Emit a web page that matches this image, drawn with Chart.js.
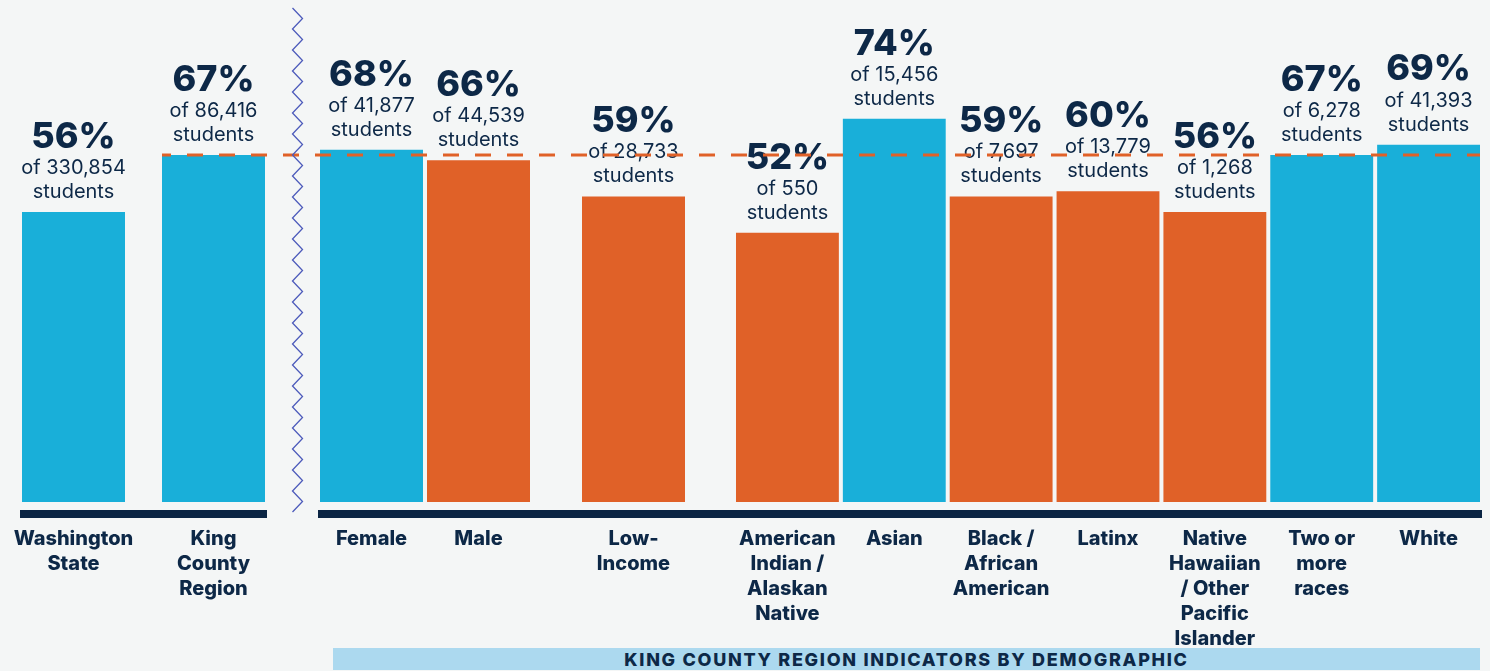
<!DOCTYPE html>
<html>
<head>
<meta charset="utf-8">
<script src="https://cdn.jsdelivr.net/npm/chart.js@4.4.1/dist/chart.umd.min.js"></script>
<style>
  body { margin: 0; background: #f4f6f6; width: 1490px; height: 671px; overflow: hidden; position: relative; font-family: Inter, sans-serif; }
  .box { position: absolute; top: 0; height: 671px; }
  #banner { position: absolute; left: 333px; top: 648px; width: 1147px; height: 22px; background: #acd9ef;
            color: #0d2847; font: 800 18px Inter, sans-serif; letter-spacing: 1.7px; text-align: center; line-height: 24px; }
</style>
</head>
<body>
<div class="box" style="left:0px;width:318px"><canvas id="stateChart" width="318" height="671"></canvas></div>
<div class="box" style="left:318px;width:238px"><canvas id="genderChart" width="238" height="671"></canvas></div>
<div class="box" style="left:556px;width:154px"><canvas id="incomeChart" width="154" height="671"></canvas></div>
<div class="box" style="left:710px;width:780px"><canvas id="raceChart" width="780" height="671"></canvas></div>
<div id="banner">KING COUNTY REGION INDICATORS BY DEMOGRAPHIC</div>
<script>
// data
var stateLabels = [['Washington', 'State'], ['King', 'County', 'Region']];
var statePct = [56, 67];
var stateCounts = [330854, 86416];

var genderLabels = ['Female', 'Male'];
var genderPct = [68, 66];
var genderCounts = [41877, 44539];

var incomeLabels = [['Low-', 'Income']];
var incomePct = [59];
var incomeCounts = [28733];

var raceLabels = [['American', 'Indian /', 'Alaskan', 'Native'], 'Asian', ['Black /', 'African', 'American'], 'Latinx',
                  ['Native', 'Hawaiian', '/ Other', 'Pacific', 'Islander'], ['Two or', 'more', 'races'], 'White'];
var racePct = [52, 74, 59, 60, 56, 67, 69];
var raceCounts = [550, 15456, 7697, 13779, 1268, 6278, 41393];

var benchmark = 67; // King County Region

var navy = '#0d2847';
var blue = '#19afd9';
var orange = '#e06128';

// labels above bars, benchmark line, baseline, zigzag break
var decorPlugin = {
    id: 'decor',
    afterDatasetsDraw: function(chart, args, o) {
        var ctx = chart.ctx;
        var meta = chart.getDatasetMeta(0);
        var ds = chart.data.datasets[0];
        var area = chart.chartArea;
        var left = chart.canvas.parentNode.offsetLeft;
        var bars = meta.data;
        var xAt = function(v, side) {
            if (v === 'edge') return side < 0 ? 0 : chart.width;
            return bars[v].x + side * bars[v].width / 2;
        };
        ctx.save();
        ctx.fillStyle = navy;
        ctx.textAlign = 'center';
        ctx.textBaseline = 'middle';
        bars.forEach(function(bar, i) {
            ctx.font = '800 36px Inter';
            ctx.fillText(ds.data[i] + '%', bar.x, bar.y - 75);
            ctx.font = '400 20px Inter';
            ctx.fillText('of ' + ds.counts[i].toLocaleString('en-US'), bar.x, bar.y - 44);
            ctx.fillText('students', bar.x, bar.y - 20);
        });

        // benchmark dashed line
        var yb = chart.scales.y.getPixelForValue(benchmark);
        var d0 = xAt(o.dashFrom, -1), d1 = xAt(o.dashTo, 1);
        ctx.strokeStyle = orange;
        ctx.lineWidth = 3;
        ctx.setLineDash([16, 16]);
        ctx.lineDashOffset = ((left + d0 - 155) % 32);
        ctx.beginPath();
        ctx.moveTo(d0, yb);
        ctx.lineTo(d1, yb);
        ctx.stroke();
        ctx.setLineDash([]);

        // baseline
        var b0 = o.baseFrom === 'edge' ? 0 : xAt(o.baseFrom, -1) - 2;
        var b1 = o.baseTo === 'edge' ? chart.width : xAt(o.baseTo, 1) + 2;
        ctx.fillStyle = '#0b2544';
        ctx.fillRect(b0, area.bottom + 8, b1 - b0, 8);

        // axis break
        if (o.zigzag) {
            var zx = area.right + 14;
            ctx.strokeStyle = '#4d5bbb';
            ctx.lineWidth = 1.3;
            ctx.beginPath();
            var k = 0;
            for (var y = 8; y <= area.bottom + 10; y += 10.5, k++) {
                var x = k % 2 === 0 ? zx - 5 : zx + 5;
                if (k === 0) ctx.moveTo(x, y); else ctx.lineTo(x, y);
            }
            ctx.stroke();
        }
        ctx.restore();
    }
};

function colorFor(v) {
    return v >= benchmark ? blue : orange;
}

function makeChart(id, labels, pct, counts, colors, barPct, pad, decor) {
    return new Chart(document.getElementById(id), {
        type: 'bar',
        data: {
            labels: labels,
            datasets: [{
                data: pct,
                counts: counts,
                backgroundColor: colors,
                barPercentage: barPct,
                categoryPercentage: 1
            }]
        },
        options: {
            responsive: false,
            animation: false,
            devicePixelRatio: 1,
            layout: { padding: { top: 10, bottom: 0, left: pad[0], right: pad[1] } },
            plugins: { legend: { display: false }, tooltip: { enabled: false }, decor: decor },
            scales: {
                x: {
                    grid: { display: false, drawTicks: true, tickLength: 25 },
                    border: { display: false },
                    ticks: {
                        color: navy,
                        font: { family: 'Inter', size: 20, weight: '800', lineHeight: 1.24 },
                        padding: 0,
                        maxRotation: 0,
                        autoSkip: false
                    },
                    afterFit: function(s) { s.height = 169; }
                },
                y: { display: false, min: 0, max: 95 }
            }
        },
        plugins: [decorPlugin]
    });
}

makeChart('stateChart', stateLabels, statePct, stateCounts, statePct.map(function() { return blue; }),
    103 / 140, [3.5, 34.5], { dashFrom: 1, dashTo: 'edge', baseFrom: 0, baseTo: 1, zigzag: true });
makeChart('genderChart', genderLabels, genderPct, genderCounts, genderPct.map(colorFor),
    103 / 107, [0, 24], { dashFrom: 'edge', dashTo: 'edge', baseFrom: 0, baseTo: 'edge' });
makeChart('incomeChart', incomeLabels, incomePct, incomeCounts, incomePct.map(colorFor),
    103 / 107, [24, 23], { dashFrom: 'edge', dashTo: 'edge', baseFrom: 'edge', baseTo: 'edge' });
makeChart('raceChart', raceLabels, racePct, raceCounts, racePct.map(colorFor),
    103 / 107, [24, 8], { dashFrom: 'edge', dashTo: 6, baseFrom: 'edge', baseTo: 6 });
</script>
</body>
</html>
